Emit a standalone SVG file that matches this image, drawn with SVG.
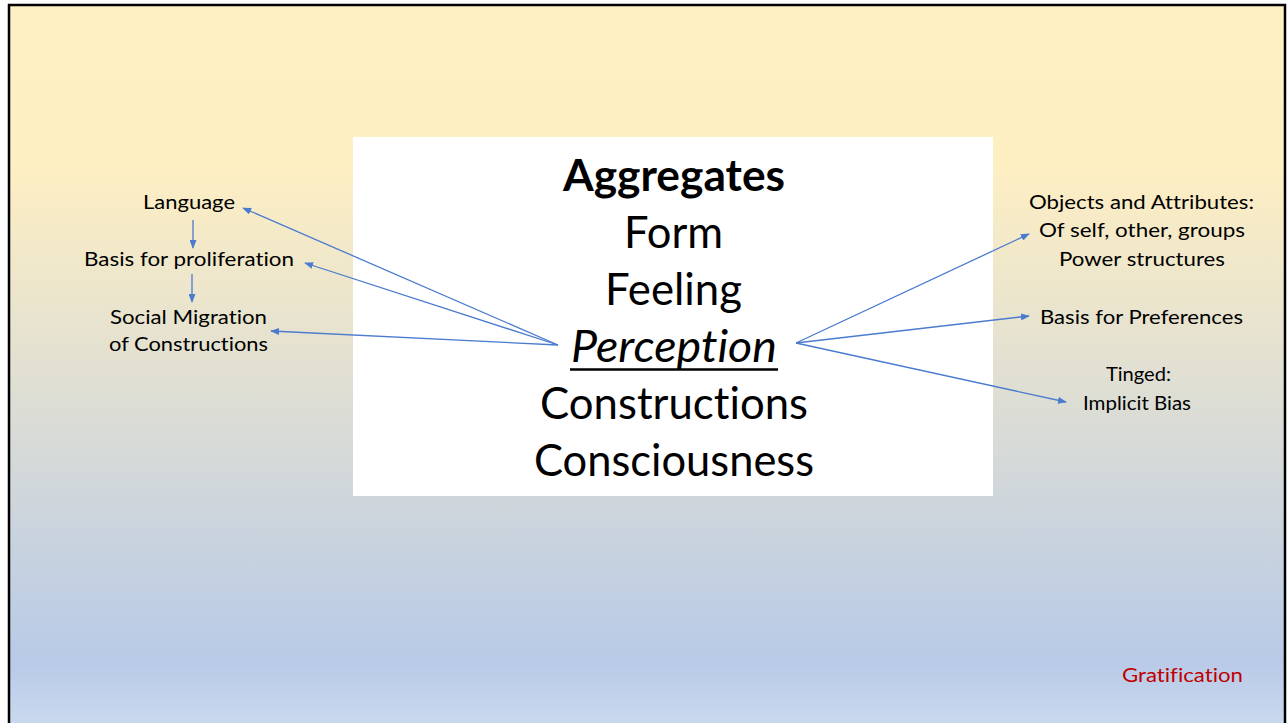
<svg xmlns="http://www.w3.org/2000/svg" width="1288" height="723" viewBox="0 0 1288 723">
<defs>
<linearGradient id="bg" x1="0" y1="0" x2="0" y2="1">
<stop offset="0" stop-color="#FFF0C4"/>
<stop offset="0.22" stop-color="#FEEFC3"/>
<stop offset="0.9" stop-color="#B8CAE7"/>
<stop offset="1" stop-color="#CDDBF0"/>
</linearGradient>
<marker id="ah" viewBox="0 0 10 10" refX="9" refY="5" markerWidth="9" markerHeight="7" markerUnits="userSpaceOnUse" orient="auto" preserveAspectRatio="none">
<path d="M0,0 L10,5 L0,10 z" fill="#4A7BCF"/>
</marker>
<style>
.big{font-family:Lato,"Open Sans","Liberation Sans",sans-serif;font-size:44px;fill:#000;text-anchor:middle;font-variant-ligatures:none}
.lbl{font-family:Lato,"Open Sans","Liberation Sans",sans-serif;font-size:18.5px;fill:#000;text-anchor:middle;font-variant-ligatures:none}
.con{stroke:#4A7BCF;stroke-width:1.3;fill:none;marker-end:url(#ah)}
</style>
</defs>
<rect x="0" y="0" width="1288" height="723" fill="#FFFFFF"/>
<rect x="9" y="5" width="1276" height="730" fill="url(#bg)" stroke="#000" stroke-width="2.5"/>
<g id="center">
<rect x="353" y="137" width="640" height="359" fill="#FFFFFF"/>
<text class="big" x="674" y="191" font-weight="bold" textLength="222" lengthAdjust="spacingAndGlyphs">Aggregates</text>
<text class="big" x="673.5" y="248" textLength="99" lengthAdjust="spacingAndGlyphs">Form</text>
<text class="big" x="673.5" y="305" textLength="137" lengthAdjust="spacingAndGlyphs">Feeling</text>
<text class="big" x="674" y="362" font-style="italic" textLength="206" lengthAdjust="spacingAndGlyphs">Perception</text>
<line x1="570" y1="369.5" x2="778" y2="369.5" stroke="#000" stroke-width="2.5"/>
<text class="big" x="674" y="419" textLength="268" lengthAdjust="spacingAndGlyphs">Constructions</text>
<text class="big" x="674" y="476" textLength="280" lengthAdjust="spacingAndGlyphs">Consciousness</text>
</g>
<g id="language"><text class="lbl" x="189" y="209" textLength="92" lengthAdjust="spacingAndGlyphs">Language</text></g>
<g id="proliferation"><text class="lbl" x="189" y="266" textLength="210" lengthAdjust="spacingAndGlyphs">Basis for proliferation</text></g>
<g id="migration">
<text class="lbl" x="188.5" y="324" textLength="157" lengthAdjust="spacingAndGlyphs">Social Migration</text>
<text class="lbl" x="188.5" y="351" textLength="159" lengthAdjust="spacingAndGlyphs">of Constructions</text>
</g>
<g id="objects">
<text class="lbl" x="1141.5" y="209" textLength="225" lengthAdjust="spacingAndGlyphs">Objects and Attributes:</text>
<text class="lbl" x="1142" y="237" textLength="206" lengthAdjust="spacingAndGlyphs">Of self, other, groups</text>
<text class="lbl" x="1142" y="266" textLength="166" lengthAdjust="spacingAndGlyphs">Power structures</text>
</g>
<g id="preferences"><text class="lbl" x="1141.5" y="324" textLength="203" lengthAdjust="spacingAndGlyphs">Basis for Preferences</text></g>
<g id="bias">
<text class="lbl" x="1138.5" y="381" textLength="65" lengthAdjust="spacingAndGlyphs">Tinged:</text>
<text class="lbl" x="1137" y="410" textLength="108" lengthAdjust="spacingAndGlyphs">Implicit Bias</text>
</g>
<g id="gratification"><text class="lbl" x="1182.5" y="682" style="fill:#C00000" textLength="121" lengthAdjust="spacingAndGlyphs">Gratification</text></g>
<g id="connectors">
<line class="con" x1="193" y1="220" x2="193" y2="248"/>
<line class="con" x1="192" y1="274" x2="192" y2="302"/>
<line class="con" x1="558" y1="345" x2="243" y2="208"/>
<line class="con" x1="558" y1="345" x2="305" y2="263"/>
<line class="con" x1="558" y1="345" x2="271" y2="331"/>
<line class="con" x1="796" y1="343" x2="1029" y2="234"/>
<line class="con" x1="796" y1="343" x2="1029" y2="316"/>
<line class="con" x1="796" y1="343" x2="1066" y2="402"/>
</g>
</svg>
